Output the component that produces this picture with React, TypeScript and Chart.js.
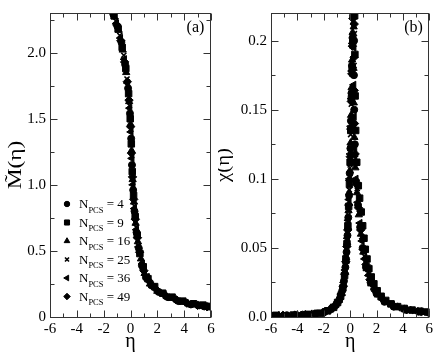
import React, { useEffect, useRef } from "react";
import { Chart, registerables } from "chart.js";
import { drawPoint } from "chart.js/helpers";

Chart.register(...registerables);

type Pt = [number, number];

// ---- tick values / labels ----
const X_TICKS = [-6, -4, -2, 0, 2, 4, 6];
const X_LABELS = ["-6", "-4", "-2", "0", "2", "4", "6"];
const X_MINOR = [-5, -3, -1, 1, 3, 5];
const M_TICKS = [0, 0.5, 1, 1.5, 2];
const M_LABELS = ["0", "0.5", "1.0", "1.5", "2.0"];
const M_MINOR = [0.25, 0.75, 1.25, 1.75, 2.25];
const CHI_TICKS = [0, 0.05, 0.1, 0.15, 0.2];
const CHI_LABELS = ["0.0", "0.05", "0.1", "0.15", "0.2"];
const CHI_MINOR = [0.025, 0.075, 0.125, 0.175];

const N_PCS = [4, 9, 16, 25, 36, 49];

// ---- panel (a): M(eta) ----
const M_N4: Pt[] = [[-1.28,2.29],[-0.98,2.20],[-0.68,2.08],[-0.40,1.91],[-0.18,1.73],[-0.04,1.54],[0.05,1.35],[0.11,1.15],[0.20,0.96],[0.30,0.80],[0.45,0.64],[0.62,0.52],[0.85,0.39],[1.15,0.30],[1.55,0.24],[2.1,0.19],[2.8,0.15],[3.6,0.12],[4.5,0.095],[5.5,0.08]];
const M_N9: Pt[] = [[-1.22,2.28],[-0.92,2.18],[-0.62,2.04],[-0.35,1.88],[-0.14,1.69],[-0.02,1.50],[0.06,1.31],[0.13,1.10],[0.23,0.92],[0.35,0.76],[0.50,0.62],[0.70,0.48],[0.95,0.38],[1.3,0.29],[1.8,0.23],[2.4,0.18],[3.1,0.15],[3.9,0.12],[4.7,0.10],[5.4,0.09],[5.95,0.08]];
const M_N16: Pt[] = [[-1.18,2.27],[-0.88,2.17],[-0.58,2.02],[-0.32,1.85],[-0.10,1.63],[0.00,1.46],[0.08,1.26],[0.16,1.04],[0.26,0.87],[0.38,0.71],[0.55,0.57],[0.78,0.44],[1.05,0.33],[1.45,0.25],[2.0,0.195],[2.7,0.155],[3.5,0.125],[4.3,0.10],[5.1,0.085],[5.8,0.075]];
const M_N25: Pt[] = [[-1.10,2.24],[-0.80,2.13],[-0.50,1.98],[-0.26,1.80],[-0.08,1.60],[0.02,1.42],[0.09,1.22],[0.17,1.02],[0.28,0.84],[0.42,0.68],[0.58,0.54],[0.80,0.42],[1.2,0.31],[1.7,0.23],[2.3,0.18],[3.0,0.145],[3.8,0.115],[4.6,0.095],[5.3,0.08],[6.0,0.07]];
const M_N36: Pt[] = [[-1.05,2.22],[-0.75,2.11],[-0.46,1.95],[-0.22,1.77],[-0.06,1.58],[0.03,1.40],[0.10,1.20],[0.18,1.00],[0.29,0.82],[0.44,0.66],[0.60,0.53],[0.88,0.40],[1.25,0.30],[1.75,0.225],[2.5,0.17],[3.3,0.13],[4.1,0.105],[4.9,0.09],[5.6,0.078]];
const M_N49: Pt[] = [[-1.34,2.31],[-1.02,2.21],[-0.72,2.09],[-0.44,1.93],[-0.24,1.78],[-0.11,1.64],[0.01,1.44],[0.07,1.24],[0.15,1.06],[0.24,0.89],[0.36,0.74],[0.52,0.60],[0.68,0.49],[1.0,0.35],[1.4,0.27],[1.95,0.205],[2.6,0.16],[3.4,0.13],[4.2,0.105],[5.0,0.088],[5.7,0.078]];

// ---- panel (b): chi(eta) ----
const CHI_N4: Pt[] = [[-6.0,0.0011],[-4.8,0.0013],[-3.6,0.0017],[-2.6,0.0025],[-1.9,0.0039],[-1.4,0.0062],[-1.05,0.0092],[-0.8,0.013],[-0.6,0.019],[-0.47,0.026],[-0.36,0.036],[-0.27,0.047],[-0.2,0.059],[-0.14,0.072],[-0.08,0.088],[-0.03,0.104],[0.02,0.122],[0.06,0.142],[0.1,0.162],[0.14,0.182],[0.18,0.202],[0.22,0.218],[0.3,0.2],[0.29,0.175],[0.31,0.15],[0.36,0.125],[0.46,0.098],[0.6,0.081],[0.76,0.065],[0.95,0.05],[1.2,0.036],[1.55,0.025],[2.0,0.017],[2.6,0.011],[3.3,0.0075],[4.2,0.0052],[5.2,0.0038],[6.0,0.003]];
const CHI_N9: Pt[] = [[-5.6,0.0012],[-4.3,0.0014],[-3.2,0.0019],[-2.3,0.0028],[-1.7,0.0045],[-1.25,0.007],[-0.95,0.0105],[-0.72,0.015],[-0.55,0.021],[-0.42,0.03],[-0.32,0.041],[-0.24,0.053],[-0.17,0.066],[-0.11,0.08],[-0.05,0.096],[0.0,0.112],[0.05,0.135],[0.1,0.158],[0.15,0.18],[0.2,0.2],[0.34,0.218],[0.36,0.19],[0.38,0.16],[0.42,0.135],[0.5,0.112],[0.62,0.095],[0.72,0.086],[0.84,0.076],[0.95,0.066],[1.05,0.057],[1.15,0.049],[1.28,0.042],[1.42,0.035],[1.6,0.029],[1.8,0.024],[2.05,0.019],[2.35,0.015],[2.7,0.012],[3.1,0.0095],[3.6,0.0075],[4.1,0.0062],[4.7,0.005],[5.3,0.0042],[5.9,0.0036]];
const CHI_N16: Pt[] = [[-5.4,0.0011],[-4.0,0.0015],[-2.9,0.0021],[-2.1,0.0032],[-1.5,0.0055],[-1.12,0.0085],[-0.85,0.012],[-0.64,0.017],[-0.5,0.024],[-0.39,0.033],[-0.3,0.043],[-0.23,0.054],[-0.17,0.065],[-0.12,0.077],[-0.07,0.09],[-0.02,0.106],[0.03,0.126],[0.07,0.146],[0.11,0.166],[0.15,0.186],[0.19,0.206],[0.27,0.21],[0.26,0.18],[0.28,0.155],[0.32,0.13],[0.4,0.108],[0.52,0.09],[0.66,0.074],[0.82,0.06],[1.0,0.047],[1.25,0.035],[1.6,0.024],[2.1,0.016],[2.8,0.0105],[3.6,0.0072],[4.6,0.0048],[5.6,0.0033]];
const CHI_N25: Pt[] = [[-5.8,0.001],[-4.5,0.0013],[-3.3,0.0018],[-2.4,0.0027],[-1.75,0.0045],[-1.3,0.007],[-0.98,0.0102],[-0.75,0.0145],[-0.58,0.02],[-0.45,0.028],[-0.34,0.038],[-0.26,0.049],[-0.19,0.061],[-0.13,0.074],[-0.06,0.092],[0.0,0.11],[0.04,0.132],[0.09,0.154],[0.13,0.176],[0.17,0.196],[0.21,0.214],[0.32,0.205],[0.3,0.182],[0.32,0.16],[0.35,0.138],[0.42,0.115],[0.54,0.093],[0.7,0.075],[0.88,0.058],[1.08,0.044],[1.35,0.032],[1.75,0.022],[2.3,0.014],[3.0,0.0095],[3.9,0.0063],[4.9,0.0043],[5.8,0.0032]];
const CHI_N36: Pt[] = [[-5.2,0.0012],[-3.8,0.0016],[-2.75,0.0023],[-2.0,0.0035],[-1.45,0.0058],[-1.1,0.0088],[-0.83,0.0125],[-0.62,0.018],[-0.48,0.025],[-0.38,0.034],[-0.29,0.044],[-0.21,0.057],[-0.15,0.07],[-0.09,0.085],[-0.04,0.1],[0.01,0.118],[0.05,0.138],[0.09,0.158],[0.13,0.178],[0.17,0.198],[0.25,0.22],[0.28,0.195],[0.27,0.168],[0.3,0.145],[0.34,0.122],[0.44,0.1],[0.58,0.083],[0.74,0.068],[0.9,0.055],[1.1,0.042],[1.4,0.03],[1.85,0.02],[2.45,0.013],[3.2,0.0085],[4.0,0.006],[5.0,0.0042],[5.9,0.003]];
const CHI_N49: Pt[] = [[-5.95,0.001],[-5.1,0.0012],[-4.2,0.0014],[-3.4,0.0017],[-2.7,0.0022],[-2.0,0.0033],[-1.55,0.005],[-1.18,0.0078],[-0.9,0.0112],[-0.68,0.016],[-0.52,0.022],[-0.41,0.031],[-0.33,0.04],[-0.25,0.051],[-0.18,0.063],[-0.1,0.081],[-0.04,0.099],[0.01,0.116],[0.05,0.136],[0.09,0.156],[0.13,0.176],[0.17,0.196],[0.21,0.216],[0.31,0.212],[0.3,0.188],[0.31,0.164],[0.33,0.14],[0.38,0.118],[0.5,0.096],[0.64,0.079],[0.8,0.063],[0.98,0.049],[1.2,0.038],[1.5,0.027],[1.9,0.019],[2.5,0.0125],[3.3,0.008],[4.3,0.0053],[5.4,0.0037]];

const M_SERIES = [M_N4, M_N9, M_N16, M_N25, M_N36, M_N49];
const CHI_SERIES = [CHI_N4, CHI_N9, CHI_N16, CHI_N25, CHI_N36, CHI_N49];

const STYLES = [
  { pointStyle: "circle", radius: 3.5, rotation: 0, bw: 1 },
  { pointStyle: "rect", radius: 4.6, rotation: 0, bw: 1 },
  { pointStyle: "triangle", radius: 4.2, rotation: 0, bw: 1 },
  { pointStyle: "crossRot", radius: 3.6, rotation: 0, bw: 1.6 },
  { pointStyle: "triangle", radius: 4.2, rotation: -90, bw: 1 },
  { pointStyle: "rectRot", radius: 4.2, rotation: 0, bw: 1 },
];

const SERIF = '"Liberation Serif", "Times New Roman", Times, serif';

const decor = {
  id: "decor",
  afterDraw(chart: any) {
    const o = chart.options.plugins.decor;
    const { ctx, chartArea: a, scales } = chart;
    const xs = scales.x;
    const ys = scales.y;
    ctx.save();
    const L = Math.round(a.left) + 0.5;
    const R = Math.round(a.right) - 0.5;
    const T = Math.round(a.top) + 0.5;
    const B = Math.round(a.bottom) + 0.5;
    ctx.strokeStyle = "#333";
    ctx.lineWidth = 1;
    ctx.strokeRect(L, T, R - L, B - T);
    ctx.beginPath();
    const xt = (vals: number[], len: number) => {
      vals.forEach((v) => {
        const p = Math.round(xs.getPixelForValue(v)) + 0.5;
        ctx.moveTo(p, B); ctx.lineTo(p, B - len);
        ctx.moveTo(p, T); ctx.lineTo(p, T + len);
      });
    };
    const yt = (vals: number[], len: number) => {
      vals.forEach((v) => {
        const p = Math.round(ys.getPixelForValue(v)) + 0.5;
        ctx.moveTo(L, p); ctx.lineTo(L + len, p);
        ctx.moveTo(R, p); ctx.lineTo(R - len, p);
      });
    };
    xt(X_TICKS, 7); xt(X_MINOR, 4);
    yt(o.yTicks, 7); yt(o.yMinor, 4);
    ctx.stroke();

    ctx.fillStyle = "#000";
    // x title
    ctx.font = `20px ${SERIF}`;
    ctx.textAlign = "center";
    ctx.textBaseline = "alphabetic";
    ctx.fillText("η", (a.left + a.right) / 2, 347);
    // panel label
    ctx.font = `16px ${SERIF}`;
    ctx.fillText(o.panel, o.panelX, 32);
    // y title
    ctx.save();
    ctx.translate(o.yTitleX, (a.top + a.bottom) / 2);
    ctx.rotate(-Math.PI / 2);
    ctx.scale(o.yTitleStretch, 1);
    ctx.font = `18px ${SERIF}`;
    ctx.textAlign = "center";
    ctx.textBaseline = "alphabetic";
    ctx.fillText(o.yTitle, 0, 0);
    ctx.restore();

    // legend
    if (o.legend) {
      chart.data.datasets.forEach((ds: any, i: number) => {
        const st = STYLES[i];
        const y = 204 + i * 18.5;
        ctx.fillStyle = "#000";
        ctx.strokeStyle = "#000";
        ctx.lineWidth = st.bw;
        drawPoint(ctx, { pointStyle: st.pointStyle, radius: st.radius * 0.78, rotation: st.rotation, borderWidth: st.bw } as any, 67, y);
        const base = y + 4;
        ctx.textAlign = "left";
        ctx.textBaseline = "alphabetic";
        ctx.font = `13px ${SERIF}`;
        let x = 79;
        ctx.fillText("N", x, base);
        x += ctx.measureText("N").width;
        ctx.font = `8.5px ${SERIF}`;
        ctx.fillText("PCS", x, base + 4.5);
        x += ctx.measureText("PCS").width;
        ctx.font = `13px ${SERIF}`;
        ctx.fillText(" = " + N_PCS[i], x, base);
      });
    }
    ctx.restore();
  },
};

function makeConfig(p: any) {
  return {
    type: "scatter",
    data: {
      datasets: p.series.map((s: Pt[], i: number) => ({
        label: "N_PCS = " + N_PCS[i],
        data: s.map(([x, y]) => ({ x, y })),
        pointStyle: STYLES[i].pointStyle,
        pointRadius: STYLES[i].radius,
        pointRotation: STYLES[i].rotation,
        pointBorderWidth: STYLES[i].bw,
        pointBackgroundColor: "#000",
        pointBorderColor: "#000",
        pointHoverRadius: STYLES[i].radius,
        showLine: false,
      })),
    },
    options: {
      responsive: false,
      animation: false,
      devicePixelRatio: 1,
      events: [],
      layout: { padding: { top: p.padTop, right: p.padRight, left: 0, bottom: 0 } },
      plugins: {
        legend: { display: false },
        tooltip: { enabled: false },
        decor: p.decor,
      },
      scales: {
        x: {
          type: "linear",
          min: -6,
          max: 6,
          grid: { display: false, drawTicks: false },
          border: { display: false },
          afterBuildTicks: (sc: any) => { sc.ticks = X_TICKS.map((v) => ({ value: v })); },
          afterFit: (sc: any) => { sc.height = 37; },
          ticks: {
            autoSkip: false,
            maxRotation: 0,
            padding: 3,
            color: "#000",
            font: { family: SERIF, size: 15 },
            callback: (_v: any, i: number) => X_LABELS[i],
          },
        },
        y: {
          type: "linear",
          min: 0,
          max: p.yMax,
          grid: { display: false, drawTicks: false },
          border: { display: false },
          afterBuildTicks: (sc: any) => { sc.ticks = p.yTicks.map((v: number) => ({ value: v })); },
          afterFit: (sc: any) => { sc.width = p.yWidth; },
          ticks: {
            autoSkip: false,
            padding: 4,
            color: "#000",
            font: { family: SERIF, size: 15 },
            callback: (_v: any, i: number) => p.yLabels[i],
          },
        },
      },
    },
    plugins: [decor],
  } as any;
}

export default function App() {
  const refA = useRef<HTMLCanvasElement>(null);
  const refB = useRef<HTMLCanvasElement>(null);
  useEffect(() => {
    const ca = new Chart(refA.current as HTMLCanvasElement, makeConfig({
      series: M_SERIES, yMax: 2.3, yTicks: M_TICKS, yLabels: M_LABELS, yWidth: 50, padTop: 2, padRight: 7,
      decor: { yTicks: M_TICKS, yMinor: M_MINOR, panel: "(a)", panelX: 195.5, yTitle: "M\u0303(η)", yTitleX: 21, yTitleStretch: 1.3, legend: true },
    }));
    const cb = new Chart(refB.current as HTMLCanvasElement, makeConfig({
      series: CHI_SERIES, yMax: 0.22, yTicks: CHI_TICKS, yLabels: CHI_LABELS, yWidth: 53, padTop: 3, padRight: 4,
      decor: { yTicks: CHI_TICKS, yMinor: CHI_MINOR, panel: "(b)", panelX: 195.5, yTitle: "χ\u0303(η)", yTitleX: 11, yTitleStretch: 1.15, legend: false },
    }));
    return () => { ca.destroy(); cb.destroy(); };
  }, []);
  return (
    <div style={{ position: "absolute", left: 0, top: 0, width: 436, height: 354, background: "#fff" }}>
      <canvas ref={refA} width={218} height={354} style={{ position: "absolute", left: 0, top: 0 }} />
      <canvas ref={refB} width={218} height={354} style={{ position: "absolute", left: 218, top: 0 }} />
    </div>
  );
}
